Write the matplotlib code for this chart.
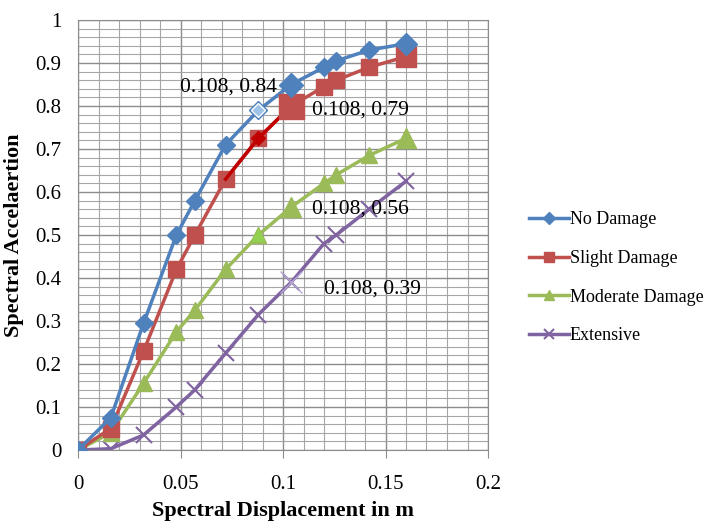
import numpy as np
import matplotlib
matplotlib.use("Agg")
import matplotlib.pyplot as plt
from matplotlib.ticker import MultipleLocator

# data
disp = [0, 0.016, 0.032, 0.048, 0.057, 0.072, 0.088, 0.104, 0.12, 0.126, 0.142, 0.16]
no_damage = [0, 0.075, 0.295, 0.50, 0.58, 0.71, 0.79, 0.85, 0.89, 0.905, 0.93, 0.945]
slight = [0, 0.05, 0.23, 0.42, 0.50, 0.63, 0.725, 0.80, 0.845, 0.86, 0.89, 0.915]
moderate = [0, 0.04, 0.155, 0.275, 0.325, 0.42, 0.50, 0.565, 0.62, 0.64, 0.685, 0.725]
extensive = [0, 0.003, 0.035, 0.10, 0.14, 0.225, 0.315, 0.39, 0.48, 0.50, 0.56, 0.625]

labels = ["No Damage", "Slight Damage", "Moderate Damage", "Extensive"]
notes = ["0.108, 0.84", "0.108, 0.79", "0.108, 0.56", "0.108, 0.39"]
note_pos = [(0.050, 0.845), (0.114, 0.79), (0.114, 0.56), (0.120, 0.375)]

plt.rcParams["font.family"] = ["Liberation Serif", "DejaVu Serif"]

fig = plt.figure(figsize=(7.1, 5.22), dpi=100)
ax = fig.add_axes([78 / 710, 72 / 522, 410 / 710, 430 / 522])

blue = "#4F81BD"
red = "#C0504D"
green = "#9BBB59"
purple = "#8064A2"

ax.plot(disp, no_damage, color=blue, lw=2.5, marker="D", ms=9, label=labels[0], zorder=5)
ax.plot(disp, slight, color=red, lw=2.5, marker="s", ms=11, label=labels[1], zorder=4)
ax.plot(disp, moderate, color=green, lw=2.5, marker="^", ms=11, label=labels[2], zorder=3)
ax.plot(disp, extensive, color=purple, lw=2.5, marker="x", ms=11, mew=1.5, label=labels[3], zorder=2)

# darker red segment around the 0.088 point and the emphasised points
ax.plot(disp[5:8], slight[5:8], color="#C00000", lw=2.5, zorder=4)
ax.plot(disp[6], slight[6], color="#C00000", marker="D", ms=7, zorder=6)
ax.plot(disp[6], no_damage[6], color="#9DC3E6", marker="D", ms=7, mec="white", zorder=6)
ax.plot(disp[7], slight[7], color=red, marker="s", ms=18, zorder=6)
ax.plot(disp[7], no_damage[7], color=blue, marker="D", ms=12, zorder=6)
ax.plot(disp[-1], slight[-1], color=red, marker="s", ms=15, zorder=6)
ax.plot(disp[-1], no_damage[-1], color=blue, marker="D", ms=11, zorder=6)
ax.plot(disp[7], moderate[7], color=green, marker="^", ms=14, zorder=6)
ax.plot(disp[-1], moderate[-1], color=green, marker="^", ms=14, zorder=6)
ax.plot(disp[6], moderate[6], color="#92D050", marker="^", ms=9, zorder=6)
ax.plot(disp[7], extensive[7], color="#B4A7D6", marker="x", ms=16, mew=1, zorder=6)

for txt, (tx, ty) in zip(notes, note_pos):
    ax.text(tx, ty, txt, fontsize=15.5, va="center", ha="left", zorder=7)

ax.set_xlim(0, 0.2)
ax.set_ylim(0, 1)
ax.xaxis.set_minor_locator(MultipleLocator(0.01))
ax.yaxis.set_minor_locator(MultipleLocator(0.02))
ax.set_xticks([0, 0.05, 0.1, 0.15, 0.2])
ax.set_xticklabels(["0", "0.05", "0.1", "0.15", "0.2"])
ax.set_yticks(np.arange(0, 1.01, 0.1))
ax.set_yticklabels(["0", "0.1", "0.2", "0.3", "0.4", "0.5", "0.6", "0.7", "0.8", "0.9", "1"])
ax.grid(which="major", color="#8C8C8C", lw=1)
ax.grid(which="minor", color="#A6A6A6", lw=0.8)
ax.set_axisbelow(True)
for s in ax.spines.values():
    s.set_color("#8C8C8C")
ax.tick_params(which="both", length=0, labelsize=15, pad=12)
ax.tick_params(axis="x", which="major", length=6, color="#8C8C8C", direction="out", pad=12)

ax.set_xlabel("Spectral Displacement in m", fontsize=16, fontweight="bold")
ax.xaxis.set_label_coords(0.5, -0.118)
ax.xaxis.label.set_va("top")
ax.set_ylabel("Spectral Accelaertion", fontsize=16, fontweight="bold", labelpad=8)

h, l = ax.get_legend_handles_labels()
fig.legend(h, l, loc="upper left", bbox_to_anchor=(513 / 710, 1 - 195 / 522), frameon=False,
           fontsize=13, labelspacing=1.2, handlelength=2.2, handletextpad=0.05, markerscale=0.7)

fig.savefig("out.png", dpi=100)
